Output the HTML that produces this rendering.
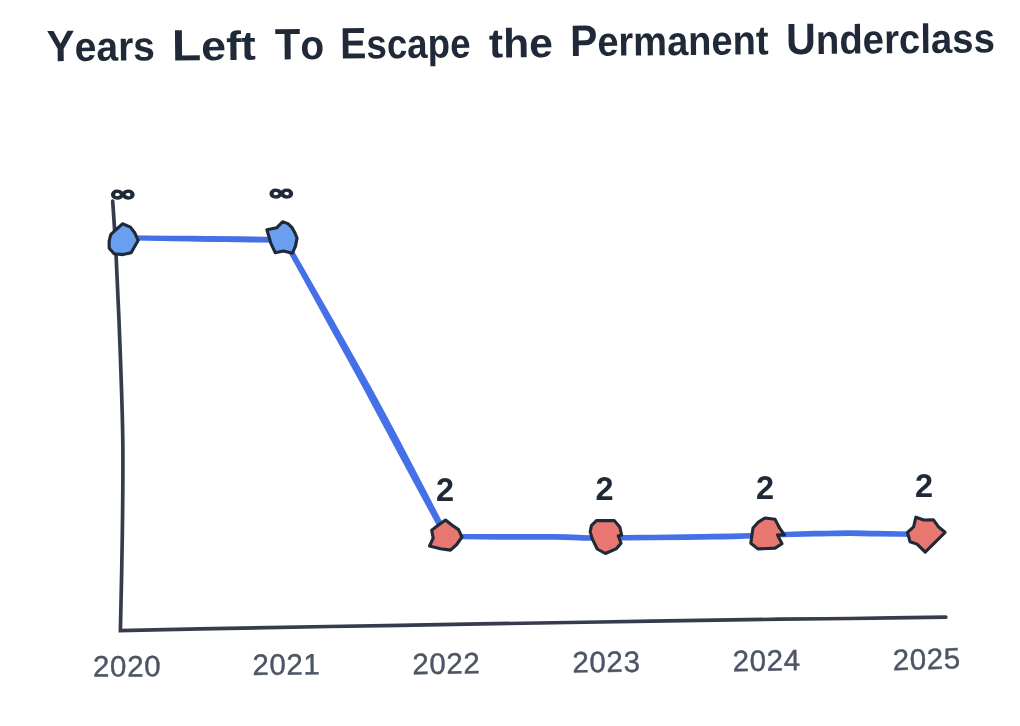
<!DOCTYPE html>
<html lang="en"><head><meta charset="utf-8"><title>Years Left To Escape the Permanent Underclass</title>
<style>
html,body{margin:0;padding:0;background:#fff;}
body{width:1020px;height:726px;overflow:hidden;font-family:"Liberation Sans","DejaVu Sans",sans-serif;}
svg{display:block;}
.title text{font-family:"Liberation Sans","DejaVu Sans",sans-serif;font-weight:700;font-size:41px;fill:#1f2937;}
.title .cap{font-size:44px;}
.ticks text{font-family:"Liberation Sans","DejaVu Sans",sans-serif;font-size:29.5px;letter-spacing:0.6px;fill:#4b5563;stroke:#4b5563;stroke-width:0.4;text-anchor:middle;}
.two{font-family:"Liberation Sans","DejaVu Sans",sans-serif;font-weight:700;font-size:32.5px;fill:#1f2937;text-anchor:middle;}
.inf{font-family:"DejaVu Sans","Liberation Sans",sans-serif;font-weight:700;font-size:27px;fill:#1f2937;stroke:#1f2937;stroke-width:1.5;stroke-linejoin:round;text-anchor:middle;}
.axis{fill:none;stroke:#353c4c;stroke-width:3.7;stroke-linecap:round;stroke-linejoin:miter;}
.line{fill:none;stroke:#4570e8;stroke-width:4.7;stroke-linecap:round;stroke-linejoin:round;}
.mk{stroke:#1f2937;stroke-width:3.1;stroke-linejoin:round;}
.b{fill:#6a9ff0;} .r{fill:#e8786f;}
</style></head>
<body>
<svg width="1020" height="726" viewBox="0 0 1020 726">
<rect width="1020" height="726" fill="#ffffff"/>
<g class="title"><text x="46.8" y="61.2" textLength="108.3" lengthAdjust="spacingAndGlyphs" transform="rotate(-0.5 46.8 61.2)"><tspan class="cap">Y</tspan>ears</text><text x="172.0" y="60.4" textLength="84.0" lengthAdjust="spacingAndGlyphs" transform="rotate(-0.5 174 60.4)"><tspan class="cap">L</tspan>eft</text><text x="275.0" y="59.6" textLength="49.2" lengthAdjust="spacingAndGlyphs" transform="rotate(-0.5 275 59.6)"><tspan class="cap">T</tspan>o</text><text x="340.3" y="58.6" textLength="130.3" lengthAdjust="spacingAndGlyphs" transform="rotate(-0.5 342.3 58.6)"><tspan class="cap">E</tspan>scape</text><text x="489.1" y="57.5" textLength="64.0" lengthAdjust="spacingAndGlyphs" transform="rotate(-0.5 489.1 57.5)">the</text><text x="570.2" y="56.0" textLength="198.4" lengthAdjust="spacingAndGlyphs" transform="rotate(-0.5 572.2 56.0)"><tspan class="cap">P</tspan>ermanent</text><text x="786.3" y="54.2" textLength="208.7" lengthAdjust="spacingAndGlyphs" transform="rotate(-0.5 788.3 54.2)"><tspan class="cap">U</tspan>nderclass</text></g>
<g class="axis">
<path d="M112.7 201.0 C113.3 210.5 115.0 233.3 116.2 258.0 C117.4 282.7 119.0 318.5 120.1 349.0 C121.2 379.5 122.4 409.8 122.8 441.0 C123.2 472.2 122.7 504.4 122.3 536.0 C121.9 567.6 120.7 614.8 120.4 630.6 C133.7 630.3 153.4 629.8 200.0 628.9 C246.6 628.0 333.3 626.4 400.0 625.3 C466.7 624.1 536.7 623.0 600.0 622.0 C663.3 621.0 738.3 619.8 780.0 619.2 C821.7 618.6 822.4 618.9 850.0 618.5 C877.6 618.1 929.8 617.3 945.8 617.1"/>
</g>
<g class="line">
<path d="M123.0 238.0 C125.8 238.0 128.8 237.9 140.0 237.9 C151.2 237.9 173.3 238.0 190.0 238.1 C206.7 238.3 224.7 238.5 240.0 238.7 C255.3 238.9 275.0 239.4 282.0 239.5"/><path d="M123.0 238.0 C125.8 238.0 128.8 237.9 140.0 238.1 C151.2 238.3 173.3 238.9 190.0 239.2 C206.7 239.6 224.7 239.7 240.0 239.9 C255.3 240.1 275.0 240.2 282.0 240.3"/>
<path d="M290.7 250.0 C297.4 261.6 317.7 297.3 330.6 320.0 C343.5 342.8 355.8 364.3 368.0 386.5 C380.3 408.7 391.8 430.4 403.9 453.3 C416.0 476.2 434.4 512.1 440.5 523.8"/><path d="M289.9 250.4 C296.4 262.2 316.2 298.1 328.8 321.0 C341.4 343.9 353.5 365.6 365.6 387.9 C377.6 410.2 389.0 431.9 401.3 454.7 C413.5 477.5 432.8 512.9 439.1 524.6"/>
<path d="M446.0 536.3 C455.0 536.3 481.8 536.4 500.0 536.4 C518.2 536.5 540.0 536.2 555.0 536.4 C570.0 536.6 581.5 537.3 590.0 537.5 C598.5 537.8 603.3 537.7 606.0 537.8"/><path d="M446.0 536.7 C455.0 536.8 481.8 537.2 500.0 537.4 C518.2 537.5 540.0 537.2 555.0 537.4 C570.0 537.6 581.5 538.3 590.0 538.5 C598.5 538.6 603.3 538.3 606.0 538.2"/>
<path d="M606.0 537.7 C614.2 537.6 636.8 537.2 655.0 537.0 C673.2 536.7 696.3 536.5 715.0 536.2 C733.7 535.9 758.3 535.2 767.0 535.0"/><path d="M606.0 538.1 C614.2 538.1 636.8 538.2 655.0 538.0 C673.2 537.9 696.3 537.6 715.0 537.2 C733.7 536.8 758.3 535.8 767.0 535.5"/>
<path d="M767.0 534.8 C775.0 534.5 801.2 533.6 815.0 533.2 C828.8 532.8 840.0 532.5 850.0 532.5 C860.0 532.5 862.3 532.9 875.0 533.2 C887.7 533.4 917.5 534.0 926.0 534.1"/><path d="M767.0 535.2 C775.0 535.0 801.2 534.5 815.0 534.2 C828.8 534.0 840.0 533.7 850.0 533.7 C860.0 533.7 862.3 534.1 875.0 534.2 C887.7 534.4 917.5 534.6 926.0 534.6"/>
</g>
<g class="mk">
<polygon class="b" points="122.5,223.8 130.4,227.1 134.7,232.7 138.1,240.5 131.1,252.8 123.0,254.6 114.1,253.7 109.2,248.3 109.1,241.4 110.7,234.7 115.0,230.5"/>
<polygon class="b" points="282.6,221.8 287.9,223.6 292.1,227.7 295.1,233.3 297.0,238.1 295.5,246.1 292.3,253.3 283.5,251.1 275.2,252.7 271.0,243.7 266.9,229.8 276.8,227.7"/>
<polygon class="r" points="445.5,520.0 452.2,525.3 458.5,529.6 461.9,537.0 456.7,544.5 450.5,550.1 440.4,548.7 429.5,546.0 433.2,538.2 431.7,530.2 438.1,525.3"/>
<polygon class="r" points="596.5,520.5 614.2,520.6 619.8,527.0 621.7,535.2 618.2,535.8 621.1,543.3 616.1,548.9 605.4,553.5 597.2,549.0 592.3,538.9 590.2,531.9 591.4,525.6"/>
<polygon class="r" points="765.0,518.0 775.0,519.3 779.7,528.2 784.4,535.0 777.5,534.9 782.0,543.7 775.0,548.1 757.9,548.9 750.8,543.3 753.0,528.0 758.7,521.8"/>
<polygon class="r" points="915.9,517.2 923.9,520.0 933.3,519.7 938.3,526.7 945.1,532.3 934.5,542.9 925.2,552.2 917.1,544.1 910.0,541.7 907.5,532.3 913.6,526.8"/>
</g>
<g class="vals"><text class="inf" transform="translate(122.9 194.3) scale(1.25 0.8)" x="0" y="8.5">∞</text><text class="inf" transform="translate(281.3 193.0) scale(1.25 0.8)" x="0" y="8.5">∞</text><text class="two" x="445.1" y="501.3">2</text><text class="two" x="604.5" y="500.2">2</text><text class="two" x="765.0" y="498.8">2</text><text class="two" x="924.0" y="497.2">2</text></g>
<g class="ticks"><text x="127.1" y="676.4" transform="rotate(-0.2 127.1 666.1)">2020</text><text x="286.4" y="674.7" transform="rotate(-0.6 286.4 664.4)">2021</text><text x="446.4" y="673.8" transform="rotate(-0.9 446.4 663.5)">2022</text><text x="606.5" y="672.1" transform="rotate(-0.7 606.5 661.8)">2023</text><text x="766.7" y="670.7" transform="rotate(-0.8 766.7 660.4)">2024</text><text x="926.6" y="669.3" transform="rotate(-1.6 926.6 659.0)">2025</text></g>
</svg>
</body></html>
